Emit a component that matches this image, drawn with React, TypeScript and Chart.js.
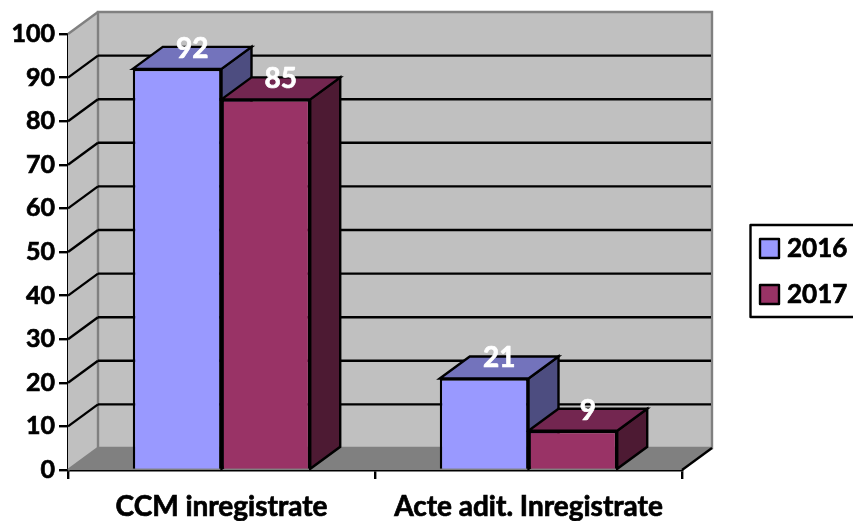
import React, { useEffect, useRef } from "react";
import { Chart, registerables } from "chart.js";

Chart.register(...registerables);

const categories = ["CCM inregistrate", "Acte adit. Inregistrate"];
const series2016 = [92, 21];
const series2017 = [85, 9];
const seriesNames = ["2016", "2017"];
const frontColors = ["#9999ff", "#993366"];
const topColors = ["#7373bc", "#732650"];
const sideColors = ["#4d4d80", "#4d1a33"];

const DX = 30;
const DY = 22;
const FONT = "Lato, 'Open Sans', sans-serif";
const WALL = "#c0c0c0";
const FLOOR = "#808080";
const LW = 2.4;

function poly(ctx: CanvasRenderingContext2D, pts: number[][], fill: string | null, stroke: string | null, lw = LW) {
  ctx.beginPath();
  pts.forEach((p, i) => (i ? ctx.lineTo(p[0], p[1]) : ctx.moveTo(p[0], p[1])));
  ctx.closePath();
  if (fill) {
    ctx.fillStyle = fill;
    ctx.fill();
  }
  if (stroke) {
    ctx.strokeStyle = stroke;
    ctx.lineWidth = lw;
    ctx.lineJoin = "miter";
    ctx.stroke();
  }
}

function line(ctx: CanvasRenderingContext2D, x1: number, y1: number, x2: number, y2: number, color: string, lw = LW) {
  ctx.beginPath();
  ctx.moveTo(x1, y1);
  ctx.lineTo(x2, y2);
  ctx.strokeStyle = color;
  ctx.lineWidth = lw;
  ctx.stroke();
}

function heavyText(ctx: CanvasRenderingContext2D, s: string, x: number, y: number, color: string) {
  ctx.fillStyle = color;
  ctx.strokeStyle = color;
  ctx.lineWidth = 0.7;
  ctx.lineJoin = "round";
  ctx.strokeText(s, x, y);
  ctx.fillText(s, x, y);
}

const box3d = {
  id: "box3d",
  beforeDatasetsDraw(chart: any) {
    const { ctx, chartArea: a, scales } = chart;
    const y = scales.y;
    const y0 = y.getPixelForValue(0);
    const yTop = y.getPixelForValue(100);
    ctx.save();
    // left wall
    poly(ctx, [[a.left, y0], [a.left + DX, y0 - DY], [a.left + DX, yTop - DY], [a.left, yTop]], WALL, null);
    // back wall
    poly(ctx, [[a.left + DX, yTop - DY], [a.right + DX, yTop - DY], [a.right + DX, y0 - DY], [a.left + DX, y0 - DY]], WALL, FLOOR);
    // floor
    poly(ctx, [[a.left, y0], [a.left + DX, y0 - DY], [a.right + DX, y0 - DY], [a.right, y0]], FLOOR, null);
    line(ctx, a.left, yTop, a.left + DX, yTop - DY, FLOOR);
    line(ctx, a.left, y0, a.left + DX, y0 - DY, FLOOR);
    // gridlines on walls
    y.ticks.forEach((t: any) => {
      if (t.value === 0 || t.value === 100) return;
      const py = y.getPixelForValue(t.value);
      line(ctx, a.left, py, a.left + DX, py - DY, "#000");
      line(ctx, a.left + DX, py - DY, a.right + DX - 1, py - DY, "#000");
    });
    line(ctx, a.right, y0, a.right + DX, y0 - DY, "#000");
    // bar top and side faces
    [0, 1].forEach((d) => {
      chart.getDatasetMeta(d).data.forEach((b: any) => {
        const l = b.x - b.width / 2;
        const r = b.x + b.width / 2;
        poly(ctx, [[r, b.y], [r + DX, b.y - DY], [r + DX, b.base - DY], [r, b.base]], sideColors[d], "#000");
        poly(ctx, [[l, b.y], [l + DX, b.y - DY], [r + DX, b.y - DY], [r, b.y]], topColors[d], "#000");
      });
    });
    ctx.restore();
  },
  afterDatasetsDraw(chart: any) {
    const { ctx } = chart;
    ctx.save();
    // value labels
    ctx.font = `bold 28px ${FONT}`;
    ctx.textAlign = "center";
    ctx.textBaseline = "middle";
    chart.data.datasets.forEach((ds: any, d: number) => {
      chart.getDatasetMeta(d).data.forEach((b: any, i: number) => {
        heavyText(ctx, String(ds.data[i]), b.x + DX / 2, b.y - DY + 2, "#fff");
      });
    });
    // legend
    ctx.fillStyle = "#fff";
    ctx.fillRect(750.5, 225, 110, 92);
    ctx.strokeStyle = "#000";
    ctx.lineWidth = LW;
    ctx.strokeRect(750.5, 225, 110, 92);
    ctx.textAlign = "left";
    ctx.font = `bold 26px ${FONT}`;
    chart.data.datasets.forEach((ds: any, d: number) => {
      const top = 239 + d * 46;
      ctx.fillStyle = frontColors[d];
      ctx.fillRect(760, top, 19, 19);
      ctx.strokeStyle = "#000";
      ctx.lineWidth = LW;
      ctx.strokeRect(760, top, 19, 19);
      heavyText(ctx, ds.label, 787, top + 10, "#000");
    });
    ctx.restore();
  },
};

export default function App() {
  const ref = useRef<HTMLCanvasElement>(null);
  useEffect(() => {
    const chart = new Chart(ref.current!, {
      type: "bar",
      data: {
        labels: categories,
        datasets: [
          { label: seriesNames[0], data: series2016, backgroundColor: frontColors[0], borderColor: "#000", borderWidth: LW },
          { label: seriesNames[1], data: series2017, backgroundColor: frontColors[1], borderColor: "#000", borderWidth: LW },
        ],
      },
      options: {
        animation: false,
        responsive: false,
        devicePixelRatio: 1,
        layout: { padding: { left: 0, top: 34, right: 171, bottom: 0 } },
        datasets: { bar: { categoryPercentage: 0.578, barPercentage: 1 } },
        plugins: { legend: { display: false }, tooltip: { enabled: false }, title: { display: false } },
        scales: {
          x: {
            afterFit: (s: any) => {
              s.height = 51;
            },
            grid: { drawOnChartArea: false, color: "#000", lineWidth: LW, tickLength: 9, offset: true },
            border: { color: "#000", width: LW },
            ticks: {
              color: "#000",
              maxRotation: 0,
              autoSkip: false,
              padding: 11,
              textStrokeColor: "#000",
              textStrokeWidth: 0.7,
              font: { family: FONT, size: 28, weight: "bold" },
            },
          },
          y: {
            min: 0,
            max: 100,
            afterFit: (s: any) => {
              s.width = 68;
            },
            grid: { drawOnChartArea: false, color: "#000", lineWidth: LW, tickLength: 9 },
            border: { color: "#000", width: LW },
            ticks: {
              stepSize: 10,
              color: "#000",
              padding: 4,
              textStrokeColor: "#000",
              textStrokeWidth: 0.7,
              font: { family: FONT, size: 25, weight: "bold" },
            },
          },
        },
      },
      plugins: [box3d],
    } as any);
    return () => chart.destroy();
  }, []);
  return (
    <div style={{ position: "absolute", left: 0, top: 0, width: 853, height: 521, overflow: "hidden", background: "#fff" }}>
      <canvas ref={ref} width={853} height={521} style={{ display: "block" }} />
    </div>
  );
}
